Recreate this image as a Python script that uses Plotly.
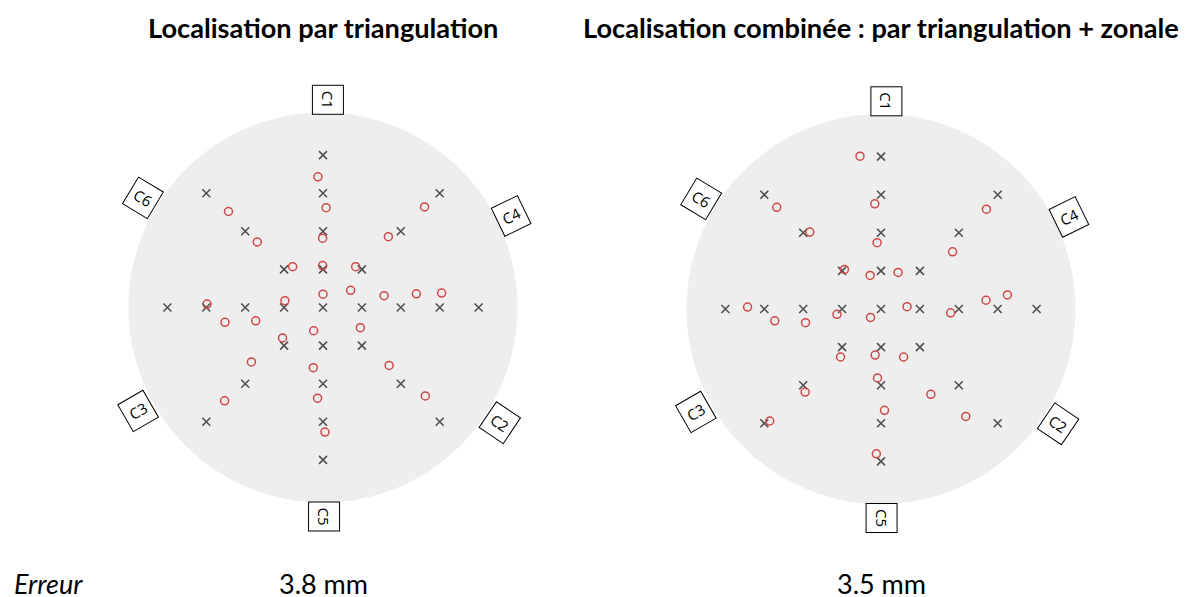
import plotly.graph_objects as go

# True grid positions (grid step units)
true_x = [0, 0, 0, 0, 0, 0, 0, 0, 0, 1, 2, 3, 4, -1, -2, -3, -4, 1, 2, 3, -1, -2, -3, 1, 2, 3, -1, -2, -3]
true_y = [0, 1, 2, 3, 4, -1, -2, -3, -4, 0, 0, 0, 0, 0, 0, 0, 0, 1, 2, 3, 1, 2, 3, -1, -2, -3, -1, -2, -3]

# Estimated positions - triangulation
est1_x = [-0.13, 0.08, -0.01, -0.01, 0.00, -2.43, -1.69, -0.78, 2.61, 1.68, 0.84, 0.71, 1.57, 2.40, 3.05,
          -2.98, -2.52, -1.73, -0.98, -1.04, -0.24, 0.96, -1.84, -2.53, -0.25, -0.14, 0.05, 1.70, 2.63]
est1_y = [3.43, 2.62, 1.82, 1.10, 0.35, 2.52, 1.72, 1.07, 2.64, 1.86, 1.07, 0.45, 0.31, 0.36, 0.38,
          0.09, -0.39, -0.35, 0.18, -0.80, -0.61, -0.53, -1.43, -2.45, -1.58, -2.38, -3.27, -1.52, -2.32]

# Estimated positions - combined triangulation + zonal
est2_x = [-0.54, -0.16, -0.10, -0.28, -0.27, -2.68, -1.83, -0.94, 2.71, 1.84, 0.44, 0.67, 1.79, 2.70, 3.25,
          -3.43, -2.73, -1.94, -1.13, -1.04, -0.15, 0.58, -1.95, -2.86, -0.09, 0.09, -0.12, 1.28, 2.18]
est2_y = [4.01, 2.76, 1.74, 0.88, -0.22, 2.67, 2.02, 1.04, 2.62, 1.50, 0.96, 0.06, -0.10, 0.23, 0.37,
          0.05, -0.31, -0.36, -0.14, -1.26, -1.21, -1.26, -2.18, -2.94, -1.81, -2.66, -3.80, -2.24, -2.82]

# Sensors
sensor_names = ["C1", "C2", "C3", "C4", "C5", "C6"]
sensor_x = [0.13, 4.56, -4.76, 4.83, 0.02, -4.62]
sensor_y = [5.45, -3.02, -2.71, 2.41, -5.48, 2.88]
sensor_angle = [90, 34, -30, -26, 90, 31]

titles = ["Localisation par triangulation", "Localisation combinée : par triangulation + zonale"]
errors = ["3.8 mm", "3.5 mm"]
error_label = "Erreur"

# page offset (body margin) compensation
OFF = 8
W, H = 1189 - OFF, 597 - OFF
px_x, px_y = 38.9, 38.1
centers = [(323 - OFF, 307.5 - OFF), (881 - OFF, 309 - OFF)]
half_w, half_h = 230, 240
circle_rx, circle_ry = 5.0, 5.12

fig = go.Figure()
estimates = [(est1_x, est1_y), (est2_x, est2_y)]
FONT = "Lato"
LABEL_FONT = "Open Sans"
RED = "#d04848"
GREY = "#505050"

for i, (cx, cy) in enumerate(centers):
    xa = "x" if i == 0 else "x2"
    ya = "y" if i == 0 else "y2"
    fig.add_trace(go.Scatter(x=true_x, y=true_y, mode="markers", xaxis=xa, yaxis=ya,
                             marker=dict(symbol="x-thin", size=8, color=GREY, line=dict(width=1.6, color=GREY)),
                             showlegend=False, hoverinfo="skip"))
    ex, ey = estimates[i]
    fig.add_trace(go.Scatter(x=ex, y=ey, mode="markers", xaxis=xa, yaxis=ya,
                             marker=dict(symbol="circle-open", size=8, color=RED, line=dict(width=1.5, color=RED)),
                             showlegend=False, hoverinfo="skip"))
    fig.add_shape(type="circle", xref=xa, yref=ya, x0=-circle_rx, x1=circle_rx, y0=-circle_ry, y1=circle_ry,
                  fillcolor="#eeeeee", line=dict(width=0), layer="below")
    for n, sx, sy, ang in zip(sensor_names, sensor_x, sensor_y, sensor_angle):
        fig.add_annotation(x=sx, y=sy, xref=xa, yref=ya, text=n, textangle=ang, showarrow=False,
                           font=dict(family=LABEL_FONT, size=15, color="black"),
                           bgcolor="white", bordercolor="black", borderwidth=1, borderpad=5)
    fig.add_annotation(x=cx / W, y=(H - (28 - OFF)) / H, xref="paper", yref="paper", text="<b>" + titles[i] + "</b>",
                       showarrow=False, font=dict(family=FONT, size=27.2, color="black"),
                       xanchor="center", yanchor="middle")
    fig.add_annotation(x=cx / W, y=(H - (583 - OFF)) / H, xref="paper", yref="paper", text=errors[i],
                       showarrow=False, font=dict(family=FONT, size=27, color="black"),
                       xanchor="center", yanchor="middle")
    xr = half_w / px_x
    yr = half_h / px_y
    ax_common = dict(showgrid=False, zeroline=False, showticklabels=False, ticks="", showline=False)
    fig.layout[("xaxis" if i == 0 else "xaxis2")] = dict(domain=[(cx - half_w) / W, (cx + half_w) / W],
                                                         range=[-xr, xr], anchor=ya, **ax_common)
    fig.layout[("yaxis" if i == 0 else "yaxis2")] = dict(domain=[(H - cy - half_h) / H, (H - cy + half_h) / H],
                                                         range=[-yr, yr], anchor=xa, **ax_common)

fig.add_annotation(x=(12 - OFF) / W, y=(H - (583 - OFF)) / H, xref="paper", yref="paper",
                   text="<i>" + error_label + "</i>",
                   showarrow=False, font=dict(family=FONT, size=27, color="black"),
                   xanchor="left", yanchor="middle")

fig.update_layout(width=W, height=H, margin=dict(l=0, r=0, t=0, b=0),
                  paper_bgcolor="white", plot_bgcolor="white", showlegend=False)

fig.write_html("out.html", post_script="document.documentElement.style.overflow='hidden';document.body.style.overflow='hidden';")
